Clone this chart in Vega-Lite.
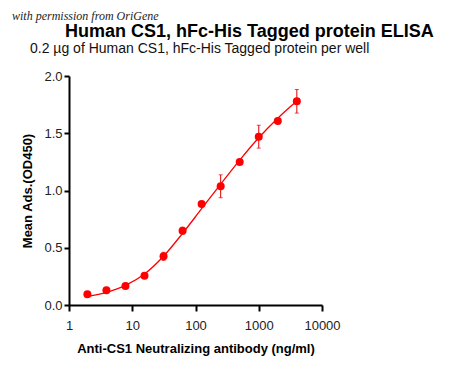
{
  "$schema": "https://vega.github.io/schema/vega-lite/v6.json",
  "background": "white",
  "padding": {"left": 12, "top": 10, "right": 5, "bottom": 5},
  "config": {
    "view": {"stroke": null},
    "font": "Liberation Sans",
    "concat": {"spacing": 0}
  },
  "datasets": {
    "pts": [
      {"conc": 1.953, "od": 0.093, "err": 0.01},
      {"conc": 3.906, "od": 0.128, "err": 0.01},
      {"conc": 7.813, "od": 0.166, "err": 0.01},
      {"conc": 15.625, "od": 0.256, "err": 0.01},
      {"conc": 31.25, "od": 0.425, "err": 0.035},
      {"conc": 62.5, "od": 0.649, "err": 0.03},
      {"conc": 125, "od": 0.882, "err": 0.01},
      {"conc": 250, "od": 1.037, "err": 0.1},
      {"conc": 500, "od": 1.249, "err": 0.01},
      {"conc": 1000, "od": 1.47, "err": 0.1},
      {"conc": 2000, "od": 1.607, "err": 0.01},
      {"conc": 4000, "od": 1.779, "err": 0.103}
    ],
    "fit": [
      {"conc": 1.953, "od": 0.076},
      {"conc": 3.906, "od": 0.111},
      {"conc": 7.813, "od": 0.171},
      {"conc": 15.625, "od": 0.271},
      {"conc": 31.25, "od": 0.426},
      {"conc": 62.5, "od": 0.626},
      {"conc": 125, "od": 0.841},
      {"conc": 250, "od": 1.056},
      {"conc": 500, "od": 1.266},
      {"conc": 1000, "od": 1.461},
      {"conc": 2000, "od": 1.631},
      {"conc": 4000, "od": 1.781}
    ]
  },
  "title": {
    "text": "with permission from OriGene",
    "anchor": "start",
    "frame": "group",
    "dx": -57,
    "font": "Liberation Serif",
    "fontStyle": "italic",
    "fontWeight": "normal",
    "fontSize": 12,
    "color": "#222",
    "offset": 0
  },
  "vconcat": [
    {
      "title": {
        "text": "Human CS1, hFc-His Tagged protein ELISA",
        "anchor": "start",
        "frame": "group",
        "dx": -4,
        "font": "Liberation Sans",
        "fontWeight": "bold",
        "fontSize": 18,
        "color": "black",
        "offset": 1
      },
      "vconcat": [
        {
          "title": {
            "text": "0.2 µg of Human CS1, hFc-His Tagged protein per well",
            "anchor": "start",
            "frame": "group",
            "dx": -39,
            "font": "Liberation Sans",
            "fontWeight": "normal",
            "fontSize": 14,
            "color": "#111",
            "offset": 14
          },
          "width": 253,
          "height": 229,
          "layer": [
            {
              "data": {"name": "fit"},
              "mark": {"type": "line", "color": "#ff0000", "strokeWidth": 1.3, "interpolate": "monotone"},
              "encoding": {
                "x": {"field": "conc", "type": "quantitative", "title": "Anti-CS1 Neutralizing antibody (ng/ml)"},
                "y": {"field": "od", "type": "quantitative", "title": "Mean Ads.(OD450)"}
              }
            },
            {
              "data": {"name": "pts"},
              "mark": {"type": "errorbar", "color": "#e00000", "thickness": 1, "ticks": {"size": 4, "color": "#e00000"}},
              "encoding": {
                "x": {"field": "conc", "type": "quantitative", "title": "Anti-CS1 Neutralizing antibody (ng/ml)"},
                "y": {"field": "od", "type": "quantitative", "title": "Mean Ads.(OD450)"},
                "yError": {"field": "err"}
              }
            },
            {
              "data": {"name": "pts"},
              "mark": {"type": "point", "filled": true, "color": "#ff0000", "size": 64, "opacity": 1},
              "encoding": {
                "x": {
                  "field": "conc",
                  "type": "quantitative",
                  "title": "Anti-CS1 Neutralizing antibody (ng/ml)",
                  "scale": {"type": "log", "domain": [1, 10000], "nice": false},
                  "axis": {
                    "values": [1, 10, 100, 1000, 10000],
                    "format": "d",
                    "grid": false,
                    "labelFlush": false,
                    "labelOverlap": false,
                    "domainColor": "black",
                    "domainWidth": 2,
                    "tickColor": "black",
                    "tickWidth": 2,
                    "tickSize": 6,
                    "labelFontSize": 13,
                    "labelColor": "#222",
                    "labelFont": "Liberation Sans",
                    "labelPadding": 8,
                    "titleFont": "Liberation Sans",
                    "titleFontSize": 13,
                    "titleFontWeight": "bold",
                    "titleColor": "black",
                    "titlePadding": 10
                  }
                },
                "y": {
                  "field": "od",
                  "type": "quantitative",
                  "title": "Mean Ads.(OD450)",
                  "scale": {"domain": [0, 2], "nice": false},
                  "axis": {
                    "values": [0, 0.5, 1, 1.5, 2],
                    "format": ".1f",
                    "grid": false,
                    "labelFlush": false,
                    "domainColor": "black",
                    "domainWidth": 2,
                    "tickColor": "black",
                    "tickWidth": 2,
                    "tickSize": 5,
                    "labelFontSize": 13,
                    "labelColor": "#222",
                    "labelFont": "Liberation Sans",
                    "labelPadding": 2,
                    "titleFont": "Liberation Sans",
                    "titleFontSize": 13,
                    "titleFontWeight": "bold",
                    "titleColor": "black",
                    "titlePadding": 9
                  }
                }
              }
            }
          ]
        }
      ]
    }
  ]
}
